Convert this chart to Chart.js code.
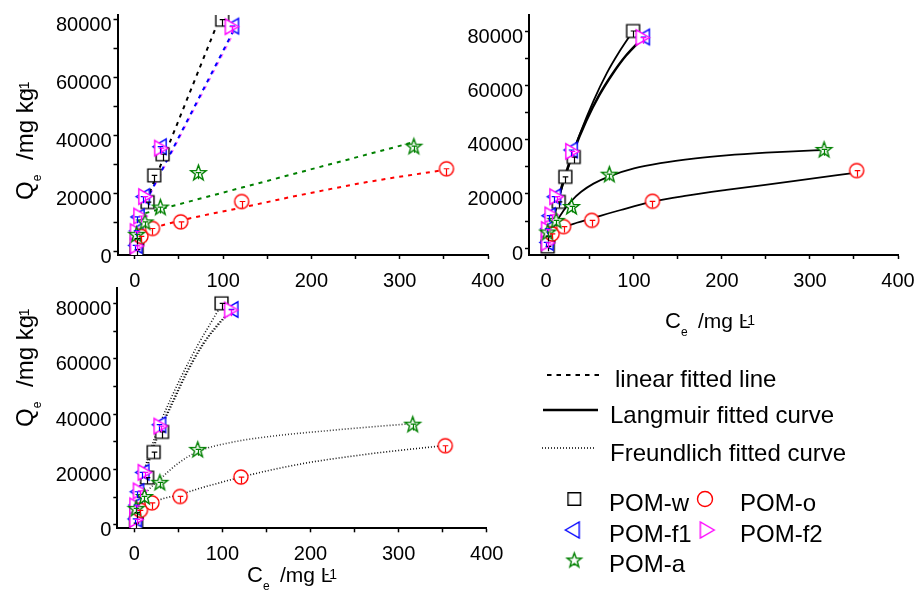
<!DOCTYPE html>
<html>
<head>
<meta charset="utf-8">
<script src="https://cdn.jsdelivr.net/npm/chart.js@4.4.1/dist/chart.umd.min.js"></script>
<style>
  html, body { margin: 0; padding: 0; background: #fff; }
  #page { position: relative; width: 917px; height: 592px; overflow: hidden; background: #fff; }
  #page canvas { position: absolute; }
</style>
</head>
<body>
<div id="page">
  <canvas id="linear" width="520" height="300" style="left:0;top:0;width:520px;height:300px"></canvas>
  <canvas id="langmuir" width="457" height="345" style="left:460px;top:0;width:457px;height:345px"></canvas>
  <canvas id="freundlich" width="917" height="312" style="left:0;top:280px;width:917px;height:312px"></canvas>
</div>
<script>
// ---------- axis ticks ----------
const xTicks = [0, 50, 100, 150, 200, 250, 300, 350, 400];
const xLabels = [0, 100, 200, 300, 400];
const yTicks = [0, 10000, 20000, 30000, 40000, 50000, 60000, 70000, 80000];
const yLabels = [0, 20000, 40000, 60000, 80000];

// ---------- measured sorption data: Ce (mg/L), Qe (mg/kg), error (mg/kg) ----------
const wC   = [2, 2.5, 14.5, 22, 31.5, 99];
const wQ   = [700, 4500, 17100, 26300, 33600, 80000];
const wErr = [1800, 2000, 2200, 2300, 2300, 2300];

const f1C   = [0.5, 1.5, 3, 9, 28, 110];
const f1Q   = [2200, 7200, 12000, 19000, 36200, 77800];
const f1Err = [1800, 2000, 2200, 2300, 2300, 2300];

const f2C   = [2.5, 2.5, 6.5, 12, 30, 110];
const f2Q   = [2000, 6900, 12300, 19000, 35700, 77600];
const f2Err = [1800, 2000, 2200, 2300, 2300, 2300];

const aC   = [2, 11.5, 29, 72, 316];
const aQ   = [6000, 10300, 15400, 27300, 36400];
const aErr = [2000, 2200, 2200, 2300, 2300];

const oC   = [7, 20, 52, 121, 353];
const oQ   = [5300, 8000, 10300, 17300, 28600];
const oErr = [2000, 2200, 2300, 2300, 2300];

// ---------- linear fits ----------
const linWC  = [13, 96];          const linWQ  = [17500, 80500];
const linF1C = [12, 111];         const linF1Q = [17000, 75800];
const linF2C = [13, 112];         const linF2Q = [17300, 75500];
const linAC  = [12, 315];         const linAQ  = [13300, 37700];
const linOC  = [20, 54, 121, 187, 263, 353];
const linOQ  = [8200, 10900, 15200, 19500, 24000, 28300];

// ---------- Langmuir fits ----------
const lanWC  = [0.5, 2, 5, 9, 14, 19, 29, 39, 54, 69, 84, 99];
const lanWQ  = [700, 2750, 6700, 11800, 17700, 23300, 33400, 42500, 54300, 64400, 72700, 80000];
const lanF1C = [1, 3, 6, 10, 15, 20, 30, 45, 60, 75, 90, 110];
const lanF1Q = [1500, 4500, 8700, 13900, 19900, 25400, 35000, 46800, 56400, 64200, 70800, 77700];
const lanF2C = [2.5, 4, 7, 11, 16, 21, 31, 46, 61, 76, 91, 111];
const lanF2Q = [1500, 4500, 8700, 13900, 19900, 25400, 35000, 46800, 56400, 64200, 70800, 77600];
const lanAC  = [6, 12, 20, 29, 40, 54, 72, 100, 130, 170, 205, 250, 281, 316];
const lanAQ  = [5500, 9700, 13950, 17500, 20800, 23800, 26500, 29400, 31350, 33100, 34200, 35200, 35700, 36200];
const lanOC  = [7, 20, 35, 52, 85, 120, 160, 205, 281, 353];
const lanOQ  = [5000, 7700, 9400, 11000, 14100, 17100, 19400, 21500, 24700, 27900];

// ---------- Freundlich fits ----------
const frWC  = [2, 5, 10, 21, 31, 44, 55, 72, 86, 99];
const frWQ  = [6500, 11800, 18300, 29500, 38000, 47300, 54600, 64900, 72500, 79500];
const frF1C = [2, 5, 10, 20, 29, 44, 59, 78, 95, 110];
const frF1Q = [5500, 10000, 16500, 27000, 34500, 45000, 55000, 65500, 72500, 77600];
const frF2C = [3, 6, 11, 21, 30, 45, 60, 79, 96, 111];
const frF2Q = [5500, 10000, 16500, 27000, 34500, 45000, 55000, 65500, 72500, 77500];
const frAC  = [5, 11, 16, 29, 50, 72, 110, 150, 225, 315];
const frAQ  = [8000, 10500, 12600, 16500, 22300, 26500, 29800, 31800, 34200, 36600];
const frOC  = [20, 35, 52, 75, 100, 121, 187, 263, 353];
const frOQ  = [8300, 9700, 11000, 13300, 15500, 17300, 21900, 25500, 28700];

// ---------- styling ----------
const FONT = "'Liberation Sans', Arial, Helvetica, sans-serif";
Chart.defaults.font.family = FONT;
Chart.defaults.color = '#000';

const COLORS = { w: '#000000', f1: '#0000ff', f2: '#ff00ff', a: '#008000', o: '#ff0000' };

const pts = (xs, ys) => xs.map((x, i) => ({ x: x, y: ys[i] }));

// open marker glyphs, centred on their bounding box
function marker(shape, color, k) {
  const s = 17 * k;
  const size = Math.ceil(s + 4);
  const c = document.createElement('canvas');
  c.width = size; c.height = size;
  const g = c.getContext('2d');
  const m = size / 2;
  g.strokeStyle = color;
  g.fillStyle = '#fff';
  g.lineWidth = 1.4;
  g.lineJoin = 'miter';
  g.beginPath();
  if (shape === 'square') {
    const h = 6 * k;
    g.rect(m - h, m - h, 2 * h, 2 * h);
  } else if (shape === 'circle') {
    g.arc(m, m, 6.7 * k, 0, Math.PI * 2);
  } else if (shape === 'left' || shape === 'right') {
    const hw = 6.2 * k, hh = 7.2 * k;
    const d = shape === 'left' ? -1 : 1;
    g.moveTo(m + d * hw, m);
    g.lineTo(m - d * hw, m - hh);
    g.lineTo(m - d * hw, m + hh);
    g.closePath();
  } else if (shape === 'star') {
    const R = 7.6 * k, r = 3.1 * k;
    for (let i = 0; i < 10; i++) {
      const rad = i % 2 ? r : R;
      const ang = -Math.PI / 2 + i * Math.PI / 5;
      const px = m + rad * Math.cos(ang), py = m + 0.6 * k + rad * Math.sin(ang);
      if (i === 0) g.moveTo(px, py); else g.lineTo(px, py);
    }
    g.closePath();
  }
  g.fill();
  g.stroke();
  return c;
}

const MARK = {
  w: marker('square', COLORS.w, 1.07), f1: marker('left', COLORS.f1, 1.07), f2: marker('right', COLORS.f2, 1.07),
  a: marker('star', COLORS.a, 1.07), o: marker('circle', COLORS.o, 1.05)
};
const LEGEND_MARK = {
  w: marker('square', COLORS.w, 1.05), f1: marker('left', COLORS.f1, 1.12), f2: marker('right', COLORS.f2, 1.12),
  a: marker('star', COLORS.a, 1.0), o: marker('circle', COLORS.o, 1.12)
};

function markerSets() {
  const mk = (key, xs, ys, errs, order) => ({
    type: 'scatter', data: pts(xs, ys), errs: errs, errColor: COLORS[key],
    pointStyle: MARK[key], pointRadius: 7, showLine: false, order: order
  });
  return [
    mk('w', wC, wQ, wErr, 5),
    mk('f1', f1C, f1Q, f1Err, 4),
    mk('f2', f2C, f2Q, f2Err, 3),
    mk('o', oC, oQ, oErr, 2),
    mk('a', aC, aQ, aErr, 1)
  ];
}

function curve(xs, ys, color, dash, width) {
  return {
    type: 'scatter', data: pts(xs, ys), showLine: true, pointRadius: 0,
    borderColor: color, borderWidth: width, borderDash: dash, fill: false,
    cubicInterpolationMode: 'monotone', order: 100
  };
}

function axes(xr, yr, yAxisW, xAxisH) {
  const grid = () => ({ display: true, drawOnChartArea: false, drawTicks: true, tickLength: 4, tickWidth: 1.5, tickColor: '#000' });
  const border = () => ({ display: true, color: '#000', width: 2 });
  return {
    x: {
      type: 'linear', position: 'bottom', min: xr[0], max: xr[1],
      grid: grid(), border: border(),
      afterBuildTicks: s => { s.ticks = xTicks.map(v => ({ value: v })); },
      afterFit: s => { s.height = xAxisH; s.paddingLeft = 0; s.paddingRight = 0; },
      ticks: { font: { size: 20, family: FONT }, color: '#000', padding: 10, maxRotation: 0, autoSkip: false,
               callback: v => (xLabels.includes(v) ? String(v) : '') }
    },
    y: {
      type: 'linear', position: 'left', min: yr[0], max: yr[1],
      grid: grid(), border: border(),
      afterBuildTicks: s => { s.ticks = yTicks.map(v => ({ value: v })); },
      afterFit: s => { s.width = yAxisW; s.paddingTop = 0; s.paddingBottom = 0; },
      ticks: { font: { size: 20, family: FONT }, color: '#000', padding: 2, labelOffset: 6, autoSkip: false,
               callback: v => (yLabels.includes(v) ? String(v) : '') }
    }
  };
}

// small "T" error marks on every measured point
const errorBars = {
  id: 'errorBars',
  afterDatasetsDraw(chart) {
    const ctx = chart.ctx, xs = chart.scales.x, ys = chart.scales.y;
    ctx.save();
    ctx.lineWidth = 1.2;
    chart.data.datasets.forEach(ds => {
      if (!ds.errs) return;
      ctx.strokeStyle = ds.errColor;
      ds.data.forEach((p, i) => {
        const px = Math.round(xs.getPixelForValue(p.x)) + 0.5;
        const top = ys.getPixelForValue(p.y);
        const bot = ys.getPixelForValue(p.y - ds.errs[i]);
        ctx.beginPath();
        ctx.moveTo(px - 2.8, top); ctx.lineTo(px + 2.8, top);
        ctx.moveTo(px, top); ctx.lineTo(px, bot);
        ctx.stroke();
      });
    });
    ctx.restore();
  }
};

function richText(ctx, x, y, parts, vertical) {
  ctx.save();
  ctx.translate(x, y);
  if (vertical) ctx.rotate(-Math.PI / 2);
  ctx.fillStyle = '#000';
  ctx.textBaseline = 'alphabetic';
  ctx.textAlign = 'left';
  let cx = 0;
  parts.forEach(p => {
    ctx.font = p.size + 'px ' + FONT;
    cx += p.dx || 0;
    ctx.fillText(p.t, cx, p.dy || 0);
    cx += ctx.measureText(p.t).width;
  });
  ctx.restore();
}

const qTitle = [
  { t: 'Q', size: 24 }, { t: 'e', size: 12, dy: 8 },
  { t: '/mg kg', size: 24, dx: 14.7 }, { t: '-1', size: 14, dx: -6, dy: -4 }
];
const cTitle = [
  { t: 'C', size: 22 }, { t: 'e', size: 12, dy: 8 },
  { t: '/mg L', size: 21, dx: 10.4 }, { t: '-1', size: 14, dx: -8, dy: -3 }
];

function titlePlugin(drawFn) {
  return { id: 'titles', afterDraw(chart) { drawFn(chart.ctx); } };
}

const base = (padding) => ({
  responsive: false, animation: false, events: [],
  layout: { padding: padding },
  plugins: { legend: { display: false }, tooltip: { enabled: false } }
});

// ---------- panel 1: linear fits ----------
new Chart(document.getElementById('linear'), {
  type: 'scatter',
  data: { datasets: [
    curve(linWC, linWQ, '#000000', [4, 5], 2),
    curve(linF1C, linF1Q, '#0000ff', [4, 5], 2),
    curve(linF2C, linF2Q, 'rgba(255,0,255,0.55)', [4, 5], 2),
    curve(linAC, linAQ, '#008000', [4, 5], 2),
    curve(linOC, linOQ, '#ff0000', [4, 5], 2)
  ].concat(markerSets()) },
  options: Object.assign(base({ left: 0, top: 15, right: 32, bottom: 0 }), {
    scales: axes([-19.6, 400], [-1140, 81620], 117.5, 45)
  }),
  plugins: [errorBars, titlePlugin(ctx => richText(ctx, 33, 200, qTitle, true))]
});

// ---------- panel 2: Langmuir fits ----------
new Chart(document.getElementById('langmuir'), {
  type: 'scatter',
  data: { datasets: [
    curve(lanWC, lanWQ, '#000', [], 1.8),
    curve(lanF1C, lanF1Q, '#000', [], 1.8),
    curve(lanF2C, lanF2Q, '#000', [], 1.8),
    curve(lanAC, lanAQ, '#000', [], 1.8),
    curve(lanOC, lanOQ, '#000', [], 1.8)
  ].concat(markerSets()) },
  options: Object.assign(base({ left: 0, top: 15, right: 19, bottom: 0 }), {
    scales: axes([-19.3, 400], [-2470, 85900], 69, 90)
  }),
  plugins: [errorBars, titlePlugin(ctx => richText(ctx, 205, 328, cTitle, false))]
});

// ---------- panel 3: Freundlich fits + key ----------
function drawKey(ctx) {
  ctx.save();
  ctx.strokeStyle = '#000';
  ctx.lineWidth = 2;
  ctx.setLineDash([4.5, 5]);
  ctx.beginPath(); ctx.moveTo(547, 95); ctx.lineTo(601, 95); ctx.stroke();
  ctx.lineWidth = 2.4;
  ctx.setLineDash([]);
  ctx.beginPath(); ctx.moveTo(543, 130); ctx.lineTo(598, 130); ctx.stroke();
  ctx.lineWidth = 1.5;
  ctx.setLineDash([1, 2]);
  ctx.beginPath(); ctx.moveTo(542, 168); ctx.lineTo(594, 168); ctx.stroke();
  ctx.setLineDash([]);
  const put = (img, x, y) => ctx.drawImage(img, x - img.width / 2, y - img.height / 2);
  put(LEGEND_MARK.w, 574.3, 219);
  put(LEGEND_MARK.o, 705, 219);
  put(LEGEND_MARK.f1, 572.3, 250);
  put(LEGEND_MARK.f2, 707.3, 250);
  put(LEGEND_MARK.a, 574.3, 280);
  ctx.fillStyle = '#000';
  ctx.textBaseline = 'alphabetic';
  ctx.textAlign = 'left';
  ctx.font = '24px ' + FONT;
  ctx.fillText('linear fitted line', 615, 106.7);
  ctx.fillText('Langmuir fitted curve', 610, 143.3);
  ctx.fillText('Freundlich fitted curve', 610, 180.7);
  ctx.fillText('POM-w', 609, 230.7);
  ctx.fillText('POM-o', 740, 230.7);
  ctx.fillText('POM-f1', 609, 261.7);
  ctx.fillText('POM-f2', 740, 261.7);
  ctx.fillText('POM-a', 609, 291.7);
  ctx.restore();
}

new Chart(document.getElementById('freundlich'), {
  type: 'scatter',
  data: { datasets: [
    curve(frWC, frWQ, '#111', [1, 2], 1.6),
    curve(frF1C, frF1Q, '#111', [1, 2], 1.6),
    curve(frF2C, frF2Q, '#111', [1, 2], 1.6),
    curve(frAC, frAQ, '#333', [1, 2], 1.6),
    curve(frOC, frOQ, '#111', [1, 2], 1.6)
  ].concat(markerSets()) },
  options: Object.assign(base({ left: 0, top: 7.3, right: 430.3, bottom: 0 }), {
    scales: axes([-19.3, 400], [-1200, 85540], 117.3, 63.7)
  }),
  plugins: [errorBars, titlePlugin(ctx => {
    richText(ctx, 33, 147, qTitle, true);
    richText(ctx, 247, 302, cTitle, false);
    drawKey(ctx);
  })]
});
</script>
</body>
</html>
